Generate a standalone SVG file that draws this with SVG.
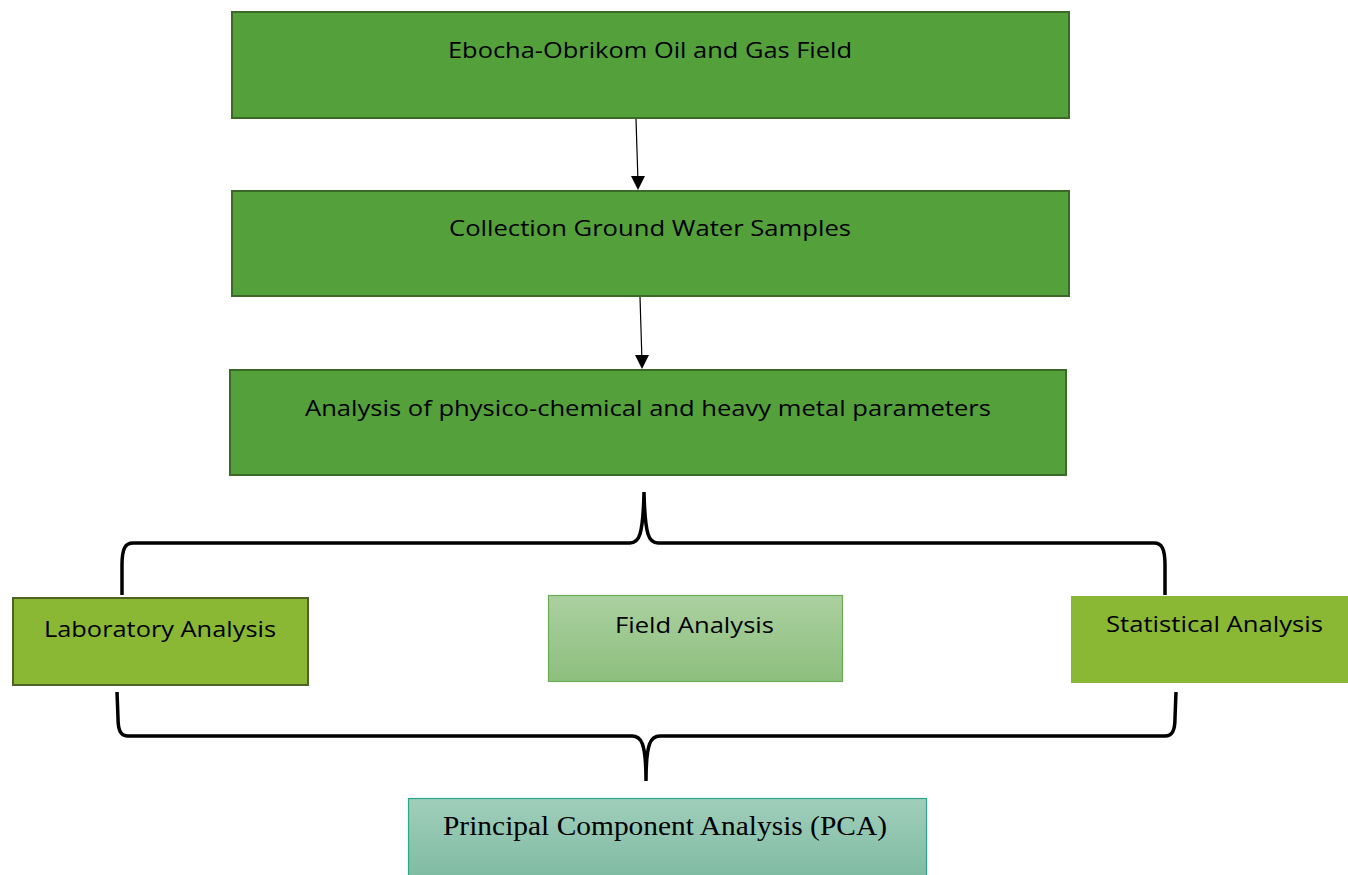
<svg xmlns="http://www.w3.org/2000/svg" width="1348" height="875" viewBox="0 0 1348 875">
<style>
.main{fill:#54a03b;stroke:#3b6a26;stroke-width:2}
.lab{fill:#8ab734;stroke:#4f6228;stroke-width:2}
.stat{fill:#8ab734}
.t{font-family:"Open Sans","Noto Sans",sans-serif;font-size:21px;fill:#000;text-anchor:middle}
.ts{font-family:"Liberation Serif","Times New Roman",serif;font-size:27px;fill:#000;text-anchor:middle}
.brace{fill:none;stroke:#000;stroke-width:3.5}
.arr{stroke:#000;stroke-width:1.2;fill:none}
</style>
<defs>
<linearGradient id="gField" x1="0" y1="0" x2="0" y2="1">
<stop offset="0" stop-color="#abd0a0"/>
<stop offset="1" stop-color="#8dbf7e"/>
</linearGradient>
<linearGradient id="gPca" x1="0" y1="0" x2="0" y2="1">
<stop offset="0" stop-color="#a0cebb"/>
<stop offset="1" stop-color="#7fbba3"/>
</linearGradient>
<marker id="ah" markerWidth="12" markerHeight="14" refX="6" refY="14" orient="auto-start-reverse" markerUnits="userSpaceOnUse" viewBox="0 0 12 14">
<path d="M0,0 L12,0 L6,14 Z" fill="#000" transform="rotate(-90 6 7)"/>
</marker>
</defs>
<g id="n1">
<rect class="main" x="232" y="12" width="837" height="106"/>
<text class="t" x="650" y="58" textLength="404" lengthAdjust="spacingAndGlyphs">Ebocha-Obrikom Oil and Gas Field</text>
</g>
<g id="n2">
<rect class="main" x="232" y="191" width="837" height="105"/>
<text class="t" x="650" y="236" textLength="402" lengthAdjust="spacingAndGlyphs">Collection Ground Water Samples</text>
</g>
<g id="n3">
<rect class="main" x="230" y="370" width="836" height="105"/>
<text class="t" x="648" y="416" textLength="686" lengthAdjust="spacingAndGlyphs">Analysis of physico-chemical and heavy metal parameters</text>
</g>
<g id="n4">
<rect class="lab" x="13" y="598" width="295" height="87"/>
<text class="t" x="160" y="637" textLength="232" lengthAdjust="spacingAndGlyphs">Laboratory Analysis</text>
</g>
<g id="n5">
<rect x="548.5" y="595.5" width="294" height="86" fill="url(#gField)" stroke="#6aab56" stroke-width="1.2"/>
<text class="t" x="694.5" y="633" textLength="159" lengthAdjust="spacingAndGlyphs">Field Analysis</text>
</g>
<g id="n6">
<rect class="stat" x="1071" y="596" width="277" height="87"/>
<text class="t" x="1214.5" y="632" textLength="217" lengthAdjust="spacingAndGlyphs">Statistical Analysis</text>
</g>
<g id="n7">
<rect x="408.5" y="798.5" width="518" height="80" fill="url(#gPca)" stroke="#2ca58d" stroke-width="1.2"/>
<text class="ts" x="665" y="835" textLength="444" lengthAdjust="spacingAndGlyphs">Principal Component Analysis (PCA)</text>
</g>
<g id="connectors">
<line class="arr" x1="636" y1="119" x2="637.8" y2="176"/>
<path d="M631,176 L645,176 L638,190 Z" fill="#000"/>
<line class="arr" x1="640" y1="297" x2="641.8" y2="355"/>
<path d="M635,355 L649,355 L642,369 Z" fill="#000"/>
<path class="brace" d="M122,595 L122,565 C122,549 125,543 133,543 L630,543 C639,543 643,536 644,492 C645,536 649,543 658,543 L1154,543 C1162,543 1165,549 1165,565 L1165,595"/>
<path class="brace" d="M117,692 L118,718 C118,731 121,736 128,736 L632,736 C641,736 646,742 646,781 C646,742 651,736 660,736 L1165,736 C1172,736 1175,731 1175,718 L1176,692"/>
</g>
</svg>
